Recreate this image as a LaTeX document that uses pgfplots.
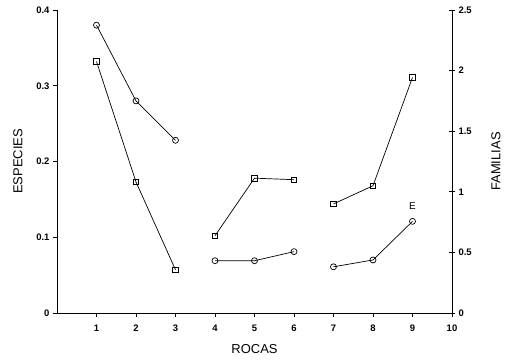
\documentclass[border=0pt]{standalone}
\usepackage{fontspec}
\setmainfont{Liberation Sans}
\usepackage{pgfplots}
\pgfplotsset{compat=1.18}
\begin{document}
\begin{tikzpicture}
\path[use as bounding box] (-57bp,-47bp) rectangle (451bp,313bp);
\begin{axis}[
  at={(0,0)}, anchor=south west,
  scale only axis, width=395bp, height=303bp,
  xmin=0, xmax=10, ymin=0, ymax=0.4,
  axis lines*=left,
  axis line style={line width=0.8bp},
  xtick={1,2,3,4,5,6,7,8,9,10},
  ytick={0,0.1,0.2,0.3,0.4},
  yticklabels={0,0.1,0.2,0.3,0.4},
  tick align=outside, major tick length=4bp,
  tick style={line width=0.7bp, black},
  /pgf/number format/assume math mode=true,
  tick label style={font=\fontsize{9.5}{11}\selectfont\bfseries},
  xticklabel style={yshift=-4bp},
  label style={font=\fontsize{13}{15}\selectfont},
  xlabel={ROCAS}, ylabel={ESPECIES},
  xlabel style={at={([yshift=-36bp]axis description cs:0.5,0)}, anchor=center},
  ylabel style={at={([xshift=-39bp]axis description cs:0,0.5)}, anchor=center},
  clip=false,
  every axis plot/.append style={black, line width=0.7bp, mark options={solid, fill=white, line width=0.7bp}},
]
% circles
\addplot[mark=o, mark size=3bp] coordinates {(1,0.380) (2,0.280) (3,0.228)};
\addplot[mark=o, mark size=3bp] coordinates {(4,0.069) (5,0.069) (6,0.081)};
\addplot[mark=o, mark size=3bp] coordinates {(7,0.061) (8,0.070) (9,0.121)};
% squares
\addplot[mark=square, mark size=2.7bp] coordinates {(1,0.332) (2,0.173) (3,0.057)};
\addplot[mark=square, mark size=2.7bp] coordinates {(4,0.102) (5,0.178) (6,0.176)};
\addplot[mark=square, mark size=2.7bp] coordinates {(7,0.144) (8,0.168) (9,0.311)};
\node[font=\fontsize{10}{12}\selectfont] at (axis cs:9,0.141) {E};
\end{axis}
\begin{axis}[
  at={(0,0)}, anchor=south west,
  scale only axis, width=395bp, height=303bp,
  xmin=0, xmax=10, ymin=0, ymax=2.5,
  axis x line=none, axis y line*=right,
  axis line style={line width=0.8bp},
  ytick={0,0.5,1,1.5,2,2.5},
  yticklabels={0,0.5,1,1.5,2,2.5},
  tick align=center, major tick length=6bp,
  tick style={line width=0.7bp, black},
  tick label style={font=\fontsize{9.5}{11}\selectfont\bfseries},
  label style={font=\fontsize{13}{15}\selectfont},
  ylabel={FAMILIAS},
  ylabel style={at={([xshift=44bp]axis description cs:1,0.5)}, anchor=center},
]
\addplot[draw=none] coordinates {(0,0)};
\end{axis}
\end{tikzpicture}
\end{document}
